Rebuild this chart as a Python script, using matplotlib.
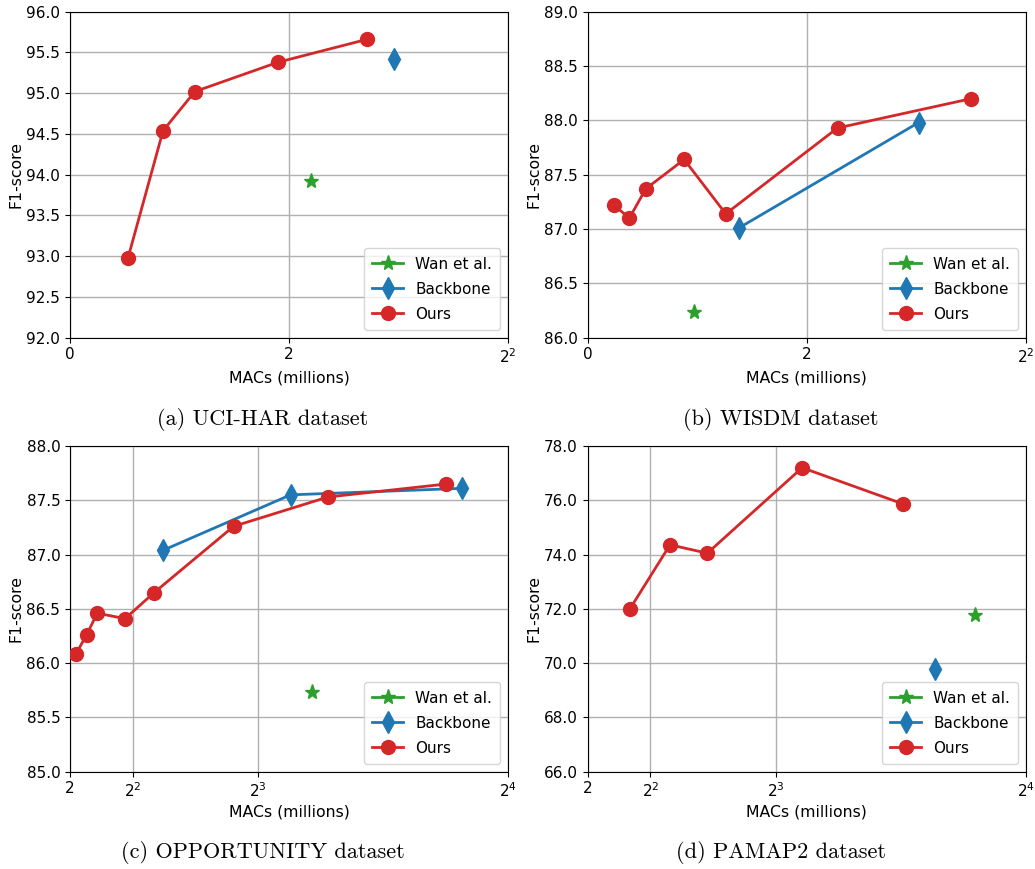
import matplotlib
matplotlib.use("Agg")
import matplotlib.pyplot as plt
from matplotlib.ticker import FormatStrFormatter, MultipleLocator

# ---- data ----
uci_ours_x = [0.53, 0.85, 1.14, 1.90, 2.71]
uci_ours_y = [92.98, 94.54, 95.02, 95.38, 95.66]
uci_bb_x = [2.96]
uci_bb_y = [95.42]
uci_wan_x = [2.20]
uci_wan_y = [93.92]

wisdm_ours_x = [0.24, 0.38, 0.53, 0.88, 1.26, 2.28, 3.50]
wisdm_ours_y = [87.22, 87.10, 87.37, 87.64, 87.14, 87.93, 88.20]
wisdm_bb_x = [1.38, 3.02]
wisdm_bb_y = [87.01, 87.98]
wisdm_wan_x = [0.97]
wisdm_wan_y = [86.24]

opp_ours_x = [2.18, 2.53, 2.87, 3.76, 4.69, 7.23, 10.24, 14.03]
opp_ours_y = [86.08, 86.26, 86.46, 86.41, 86.65, 87.26, 87.53, 87.65]
opp_bb_x = [4.98, 9.05, 14.53]
opp_bb_y = [87.04, 87.55, 87.61]
opp_wan_x = [9.75]
opp_wan_y = [85.73]

pam_ours_x = [3.35, 4.63, 5.82, 8.85, 12.06]
pam_ours_y = [72.0, 74.36, 74.05, 77.2, 75.87]
pam_bb_x = [13.09]
pam_bb_y = [69.77]
pam_wan_x = [14.38]
pam_wan_y = [71.78]

xticks_small = [0, 2, 4]
xticklabels_small = ["0", "2", "$2^2$"]
xticks_large = [2, 4, 8, 16]
xticklabels_large = ["2", "$2^2$", "$2^3$", "$2^4$"]

captions = ["(a) UCI-HAR dataset", "(b) WISDM dataset",
            "(c) OPPORTUNITY dataset", "(d) PAMAP2 dataset"]

panels = [
    dict(ours=(uci_ours_x, uci_ours_y), bb=(uci_bb_x, uci_bb_y), wan=(uci_wan_x, uci_wan_y),
         xlim=(0, 4), xt=xticks_small, xtl=xticklabels_small, ylim=(92, 96), ystep=0.5),
    dict(ours=(wisdm_ours_x, wisdm_ours_y), bb=(wisdm_bb_x, wisdm_bb_y), wan=(wisdm_wan_x, wisdm_wan_y),
         xlim=(0, 4), xt=xticks_small, xtl=xticklabels_small, ylim=(86, 89), ystep=0.5),
    dict(ours=(opp_ours_x, opp_ours_y), bb=(opp_bb_x, opp_bb_y), wan=(opp_wan_x, opp_wan_y),
         xlim=(2, 16), xt=xticks_large, xtl=xticklabels_large, ylim=(85, 88), ystep=0.5),
    dict(ours=(pam_ours_x, pam_ours_y), bb=(pam_bb_x, pam_bb_y), wan=(pam_wan_x, pam_wan_y),
         xlim=(2, 16), xt=xticks_large, xtl=xticklabels_large, ylim=(66, 78), ystep=2.0),
]

W, H = 1035, 869
fig = plt.figure(figsize=(W / 100, H / 100), dpi=100)

# axes boxes in pixels: left, top, right, bottom
boxes = [(70, 11.7, 508, 337.7), (587.7, 11.7, 1026, 337.7),
         (70, 446, 508, 771.7), (587.7, 446, 1026, 771.7)]
caption_pos = [(263, 419), (781, 419), (263, 853), (781, 853)]

for i, (p, b) in enumerate(zip(panels, boxes)):
    l, t, r, bt = b
    ax = fig.add_axes([l / W, 1 - bt / H, (r - l) / W, (bt - t) / H])
    ax.plot(*p["wan"], '-*', color='tab:green', markersize=11, linewidth=2, label='Wan et al.', zorder=3)
    ax.plot(*p["bb"], '-d', color='tab:blue', markersize=11, linewidth=2, label='Backbone', zorder=3)
    ax.plot(*p["ours"], '-o', color='tab:red', markersize=10, linewidth=2, label='Ours', zorder=3)
    ax.set_xlim(*p["xlim"])
    ax.set_ylim(*p["ylim"])
    ax.set_xticks(p["xt"])
    ax.set_xticklabels(p["xtl"])
    ax.yaxis.set_major_locator(MultipleLocator(p["ystep"]))
    ax.yaxis.set_major_formatter(FormatStrFormatter('%.1f'))
    ax.tick_params(labelsize=11)
    ax.grid(True, color='#b0b0b0', linewidth=1)
    ax.set_axisbelow(True)
    ax.set_xlabel('MACs (millions)', fontsize=11.3, labelpad=3)
    ax.set_ylabel('F1-score', fontsize=11.3, labelpad=2)
    ax.legend(loc='lower right', fontsize=11, labelspacing=0.65, borderpad=0.55)
    cx, cy = caption_pos[i]
    fig.text(cx / W, 1 - cy / H, captions[i], ha='center', va='center',
             fontsize=16, family='cmr10')

fig.savefig('out.png', dpi=100)
